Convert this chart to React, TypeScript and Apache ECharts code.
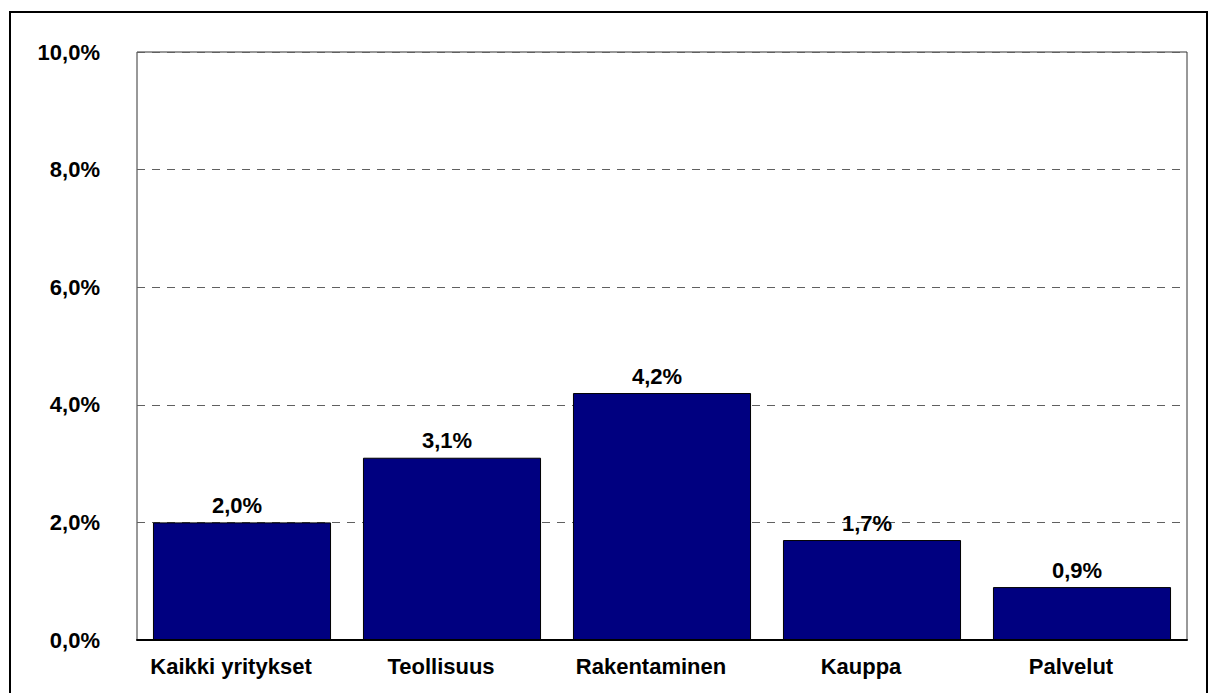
import React, { useEffect, useRef } from "react";
import * as echarts from "echarts";

const categories = ["Kaikki yritykset", "Teollisuus", "Rakentaminen", "Kauppa", "Palvelut"];
const values = [2.0, 3.1, 4.2, 1.7, 0.9];
const yMin = 0;
const yMax = 10;
const yInterval = 2;

const fmt = (v: number) => v.toFixed(1).replace(".", ",") + "%";
const FONT = "'Liberation Sans', Arial, sans-serif";

export default function App() {
  const ref = useRef<HTMLDivElement>(null);
  useEffect(() => {
    if (!ref.current) return;
    const chart = echarts.init(ref.current, null, { renderer: "svg" });
    chart.setOption({
      animation: false,
      backgroundColor: "#ffffff",
      grid: {
        left: 137,
        right: 26,
        top: 52,
        bottom: 53,
        show: true,
        borderColor: "#333333",
        borderWidth: 1,
      },
      xAxis: {
        type: "category",
        data: categories,
        axisLine: { show: true, lineStyle: { color: "#000000", width: 2 } },
        axisTick: { show: false },
        axisLabel: {
          margin: 15,
          color: "#000000",
          fontFamily: FONT,
          fontWeight: "bold",
          fontSize: 22,
          padding: [0, 22, 0, 0],
        },
      },
      yAxis: {
        type: "value",
        min: yMin,
        max: yMax,
        interval: yInterval,
        axisLine: { show: false },
        axisTick: { show: false },
        splitLine: {
          show: true,
          lineStyle: { color: "#606060", type: [8, 7], width: 1 },
        },
        axisLabel: {
          margin: 37,
          color: "#000000",
          fontFamily: FONT,
          fontWeight: "bold",
          fontSize: 22,
          formatter: (v: number) => fmt(v),
        },
      },
      series: [
        {
          type: "bar",
          data: values,
          barCategoryGap: "15.2%",
          itemStyle: { color: "#000080", borderColor: "#000000", borderWidth: 1 },
          label: {
            show: true,
            position: "top",
            distance: 6,
            offset: [-5, 0],
            color: "#000000",
            fontFamily: FONT,
            fontWeight: "bold",
            fontSize: 22,
            formatter: (p: any) => fmt(p.value),
          },
        },
      ],
      graphic: [
        {
          type: "rect",
          shape: { x: 10, y: 12, width: 1197, height: 800 },
          style: { fill: "none", stroke: "#000000", lineWidth: 2 },
          silent: true,
        },
      ],
    });
    return () => chart.dispose();
  }, []);
  return (
    <div
      ref={ref}
      style={{ position: "absolute", left: 0, top: 0, width: 1213, height: 693 }}
    />
  );
}
